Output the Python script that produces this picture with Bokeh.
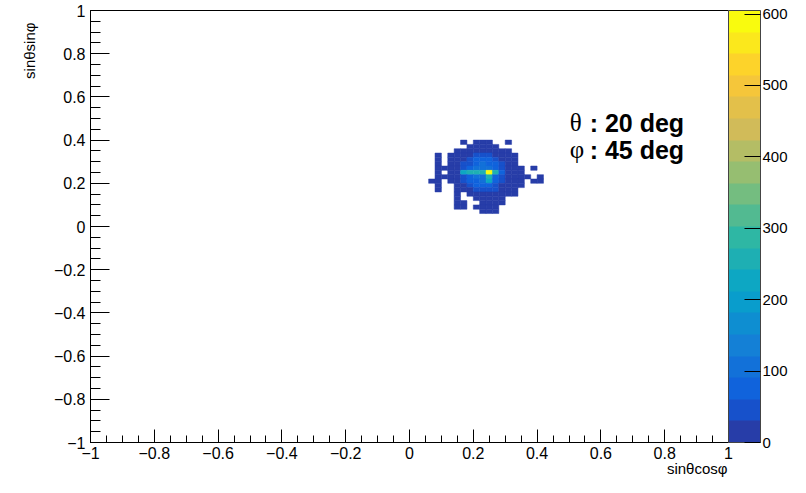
import numpy as np
from bokeh.plotting import figure
from bokeh.models import (Range1d, LinearColorMapper, ColorBar, FixedTicker, Label, Title,
                          CustomJSTickFormatter, ColumnDataSource)
from bokeh.embed import file_html
from bokeh.resources import INLINE

# ---- data: 2D histogram (bin width 0.02), lower-left corners of bins ----
x_low = [0.06, 0.08, 0.10, 0.12, 0.14, 0.16, 0.18, 0.20, 0.22, 0.24,
         0.26, 0.28, 0.30, 0.32, 0.34, 0.36, 0.38, 0.40, 0.42]
y_low = [0.38, 0.36, 0.34, 0.32, 0.30, 0.28, 0.26, 0.24, 0.22,
         0.20, 0.18, 0.16, 0.14, 0.12, 0.10, 0.08, 0.06]
counts = [
    [0, 0, 0, 0, 0, 5, 0, 6, 8, 6, 0, 0, 4, 0, 0, 0, 0, 0, 0],
    [0, 0, 0, 0, 0, 0, 8, 12, 15, 12, 8, 0, 0, 0, 0, 0, 0, 0, 0],
    [0, 0, 0, 0, 5, 8, 14, 22, 26, 24, 16, 9, 5, 0, 0, 0, 0, 0, 0],
    [0, 4, 0, 6, 9, 16, 26, 38, 44, 40, 28, 16, 9, 5, 0, 0, 0, 0, 0],
    [0, 5, 0, 8, 14, 26, 45, 65, 75, 70, 50, 26, 12, 6, 0, 0, 0, 0, 0],
    [0, 6, 0, 10, 18, 35, 60, 85, 95, 90, 65, 35, 16, 7, 0, 0, 0, 0, 0],
    [0, 7, 5, 12, 20, 45, 70, 100, 115, 110, 78, 42, 18, 9, 5, 0, 4, 0, 0],
    [0, 8, 0, 14, 26, 240, 245, 250, 255, 605, 250, 90, 26, 12, 6, 0, 0, 0, 0],
    [0, 7, 5, 12, 24, 48, 75, 100, 112, 245, 80, 44, 20, 10, 5, 3, 0, 3, 0],
    [3, 6, 0, 10, 18, 40, 65, 90, 100, 235, 68, 36, 18, 8, 4, 0, 3, 3, 0],
    [0, 5, 0, 0, 13, 26, 48, 65, 74, 78, 50, 26, 13, 6, 3, 0, 0, 0, 0],
    [0, 4, 0, 0, 8, 16, 30, 42, 48, 46, 32, 18, 8, 4, 0, 0, 0, 0, 0],
    [0, 0, 0, 0, 5, 0, 15, 24, 28, 26, 19, 10, 5, 3, 0, 0, 0, 0, 0],
    [0, 0, 0, 0, 3, 0, 0, 10, 14, 13, 8, 4, 0, 0, 0, 0, 0, 0, 0],
    [0, 0, 0, 0, 3, 3, 0, 0, 7, 6, 5, 3, 0, 0, 0, 0, 0, 0, 0],
    [0, 0, 0, 0, 2, 2, 0, 4, 5, 4, 3, 0, 0, 0, 0, 0, 0, 0, 0],
    [0, 0, 0, 0, 0, 0, 0, 0, 3, 3, 2, 0, 0, 0, 0, 0, 0, 0, 0],
]
bin_w = 0.02
z_max = 605
axis_ticks = [-1, -0.8, -0.6, -0.4, -0.2, 0, 0.2, 0.4, 0.6, 0.8, 1]
cbar_ticks = [0, 100, 200, 300, 400, 500, 600]
x_title = "sinθcosφ"
y_title = "sinθsinφ"
theta_text = ("θ", ": 20 deg")
phi_text = ("φ", ": 45 deg")

# ---- ROOT kBird palette, 20 contour bands ----
stops = [0.0, 0.125, 0.25, 0.375, 0.5, 0.625, 0.75, 0.875, 1.0]
red = [0.2082, 0.0592, 0.0780, 0.0232, 0.1802, 0.5301, 0.8186, 0.9956, 0.9764]
green = [0.1664, 0.3599, 0.5041, 0.6419, 0.7178, 0.7492, 0.7328, 0.7862, 0.9832]
blue = [0.5293, 0.8684, 0.8385, 0.7914, 0.6425, 0.4662, 0.3499, 0.1968, 0.0539]


def bird(f):
    r = np.interp(f, stops, red)
    g = np.interp(f, stops, green)
    b = np.interp(f, stops, blue)
    return "#%02x%02x%02x" % (int(round(r * 255)), int(round(g * 255)), int(round(b * 255)))


ncol, ndiv = 255, 20
bands = [bird(int((i + 0.99) * ncol / ndiv) / (ncol - 1)) for i in range(ndiv)]
mapper = LinearColorMapper(palette=bands, low=0, high=z_max)

xs, ys, zs = [], [], []
for j, row in enumerate(counts):
    for i, z in enumerate(row):
        if z > 0:
            xs.append(x_low[i] + bin_w / 2)
            ys.append(y_low[j] + bin_w / 2)
            zs.append(z)
src = ColumnDataSource(dict(x=xs, y=ys, z=zs))

FONT = "Liberation Sans"

p = figure(width=790, height=477, x_range=Range1d(-1, 1), y_range=Range1d(-1, 1),
           output_backend="svg", toolbar_location=None,
           min_border_left=90, min_border_top=10, min_border_bottom=35, min_border_right=61)
p.background_fill_color = "white"
p.border_fill_color = "white"
p.outline_line_color = "black"
p.outline_line_width = 1
p.grid.visible = False

p.rect(x="x", y="y", width=bin_w, height=bin_w, source=src,
       fill_color={"field": "z", "transform": mapper},
       line_color={"field": "z", "transform": mapper}, line_width=0.5)

minor = [round(v, 2) for v in np.arange(-1, 1.0001, 0.05)]
fmt = CustomJSTickFormatter(code="""
var v = Math.round(tick*10)/10;
var s = v.toString();
return s.replace('-', '\u2212');
""")
for ax, tin, mtin in ((p.xaxis[0], 13, 7), (p.yaxis[0], 19, 10)):
    ax.ticker = FixedTicker(ticks=axis_ticks, minor_ticks=minor)
    ax.formatter = fmt
    ax.major_tick_in = tin
    ax.major_tick_out = 0
    ax.minor_tick_in = mtin
    ax.minor_tick_out = 0
    ax.axis_line_color = "black"
    ax.major_tick_line_color = "black"
    ax.minor_tick_line_color = "black"
    ax.major_label_text_font = FONT
    ax.major_label_text_font_size = "16px"
    ax.major_label_text_color = "black"
p.xaxis[0].major_label_standoff = 4
p.yaxis[0].major_label_standoff = 5

# axis titles at the axis ends (ROOT style)
p.add_layout(Title(text=x_title, align="right", vertical_align="top", text_font=FONT,
                   text_font_size="15px", text_font_style="normal", text_color="black",
                   standoff=-4, offset=1), "below")
p.add_layout(Title(text=y_title, align="right", text_font=FONT,
                   text_font_size="15px", text_font_style="normal", text_color="black",
                   standoff=26, offset=12), "left")

cbar = ColorBar(color_mapper=mapper, ticker=FixedTicker(ticks=cbar_ticks), width=32,
                margin=2, padding=0, label_standoff=2,
                major_tick_in=16, major_tick_out=0, major_tick_line_color="black",
                minor_tick_line_color=None, bar_line_color="#444444",
                border_line_color=None, background_fill_color="white",
                major_label_text_font=FONT, major_label_text_font_size="15px",
                major_label_text_color="black")
p.add_layout(cbar, "right")

for (sym, rest), ybase in ((theta_text, 0.48), (phi_text, 0.355)):
    p.add_layout(Label(x=0.502, y=ybase, text=sym, text_font="Liberation Serif",
                       text_font_size="25px", text_baseline="alphabetic", text_color="black"))
    p.add_layout(Label(x=0.502, y=ybase, x_offset=20, text=rest, text_font=FONT,
                       text_font_style="bold", text_font_size="25px",
                       text_baseline="alphabetic", text_color="black"))

open("out.html", "w").write(file_html(p, INLINE))
